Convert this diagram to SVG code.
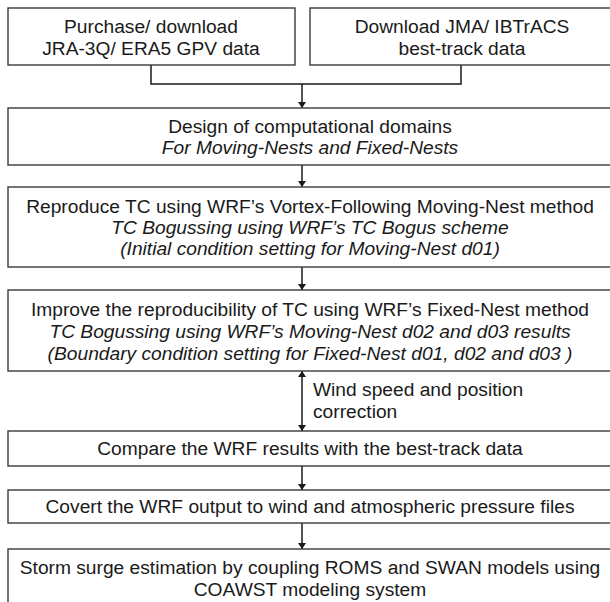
<svg xmlns="http://www.w3.org/2000/svg" width="610" height="602" viewBox="0 0 610 602">
<defs>
<style>
.box{fill:#fff;stroke:#3a3a3a;stroke-width:1.4}
.t{font-family:"Liberation Sans",Arial,sans-serif;font-size:19.2px;fill:#1a1a1a;text-anchor:middle}
.i{font-style:italic}
.l{text-anchor:start}
.c{fill:none;stroke:#1a1a1a;stroke-width:1.5}
</style>
<marker id="ah" viewBox="0 0 10 10" refX="10" refY="5" markerWidth="6" markerHeight="8" orient="auto-start-reverse" markerUnits="userSpaceOnUse" preserveAspectRatio="none">
<path d="M0,0 L10,5 L0,10 z" fill="#1a1a1a"/>
</marker>
</defs>
<rect width="610" height="602" fill="#fff"/>
<g id="connectors">
<path class="c" d="M151,65 V84 H461 V65"/>
<line class="c" x1="302" y1="84" x2="302" y2="108" marker-end="url(#ah)"/>
<line class="c" x1="302" y1="165" x2="302" y2="187" marker-end="url(#ah)"/>
<line class="c" x1="302" y1="267" x2="302" y2="290" marker-end="url(#ah)"/>
<line class="c" x1="302" y1="371" x2="302" y2="431" marker-start="url(#ah)" marker-end="url(#ah)"/>
<line class="c" x1="302" y1="466" x2="302" y2="490" marker-end="url(#ah)"/>
<line class="c" x1="302" y1="523" x2="302" y2="549" marker-end="url(#ah)"/>
<text class="t l" x="313" y="396">Wind speed and position</text>
<text class="t l" x="313" y="418">correction</text>
</g>
<g id="n1">
<rect class="box" x="8" y="8" width="287" height="57"/>
<text class="t" x="151" y="33">Purchase/ download</text>
<text class="t" x="151" y="55">JRA-3Q/ ERA5 GPV data</text>
</g>
<g id="n2">
<rect class="box" x="310" y="8" width="302" height="57"/>
<text class="t" x="462" y="33">Download JMA/ IBTrACS</text>
<text class="t" x="462" y="55">best-track data</text>
</g>
<g id="n3">
<rect class="box" x="8" y="108" width="604" height="57"/>
<text class="t" x="310" y="133">Design of computational domains</text>
<text class="t i" x="310" y="154">For Moving-Nests and Fixed-Nests</text>
</g>
<g id="n4">
<rect class="box" x="8" y="187" width="604" height="80"/>
<text class="t" x="310" y="213">Reproduce TC using WRF’s Vortex-Following Moving-Nest method</text>
<text class="t i" x="310" y="234">TC Bogussing using WRF’s TC Bogus scheme</text>
<text class="t i" x="310" y="255">(Initial condition setting for Moving-Nest d01)</text>
</g>
<g id="n5">
<rect class="box" x="8" y="290" width="604" height="81"/>
<text class="t" x="310" y="316">Improve the reproducibility of TC using WRF’s Fixed-Nest method</text>
<text class="t i" x="310" y="338">TC Bogussing using WRF’s Moving-Nest d02 and d03 results</text>
<text class="t i" x="310" y="360">(Boundary condition setting for Fixed-Nest d01, d02 and d03 )</text>
</g>
<g id="n6">
<rect class="box" x="8" y="431" width="604" height="35"/>
<text class="t" x="310" y="455">Compare the WRF results with the best-track data</text>
</g>
<g id="n7">
<rect class="box" x="8" y="490" width="604" height="33"/>
<text class="t" x="310" y="513">Covert the WRF output to wind and atmospheric pressure files</text>
</g>
<g id="n8">
<rect class="box" x="8" y="549" width="604" height="60"/>
<text class="t" x="310" y="574">Storm surge estimation by coupling ROMS and SWAN models using</text>
<text class="t" x="310" y="596">COAWST modeling system</text>
</g>
</svg>
